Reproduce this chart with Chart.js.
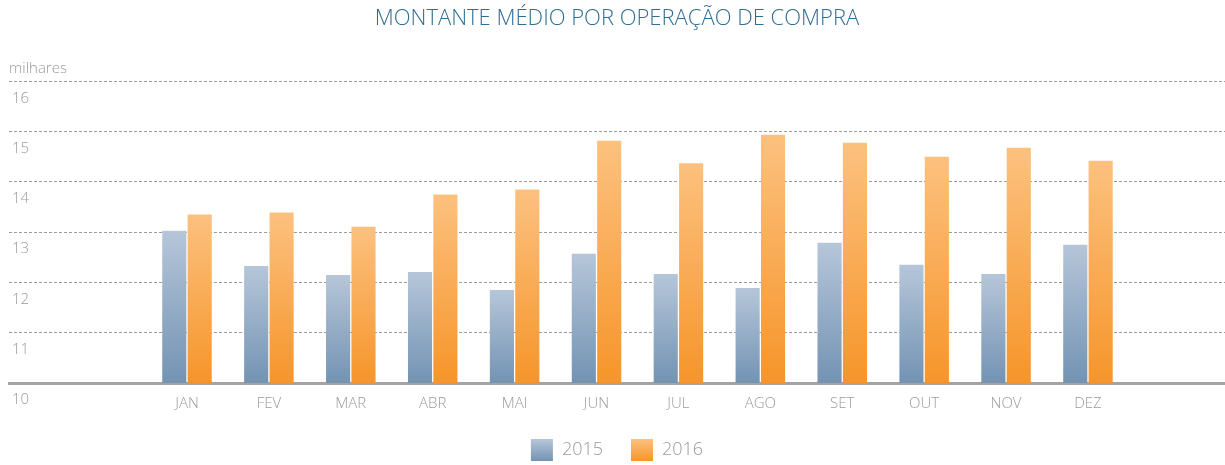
<!DOCTYPE html>
<html>
<head>
<meta charset="utf-8">
<script src="https://cdn.jsdelivr.net/npm/chart.js@4"></script>
<style>
  html, body { margin: 0; padding: 0; background: #fff; }
  #wrap { width: 1225px; height: 465px; }
</style>
</head>
<body>
<div id="wrap"><canvas id="compraChart"></canvas></div>
<script>
var months = ['JAN', 'FEV', 'MAR', 'ABR', 'MAI', 'JUN', 'JUL', 'AGO', 'SET', 'OUT', 'NOV', 'DEZ']
var values2015 = [13.03, 12.33, 12.15, 12.21, 11.85, 12.57, 12.17, 11.89, 12.79, 12.35, 12.17, 12.75]
var values2016 = [13.35, 13.39, 13.11, 13.75, 13.85, 14.82, 14.37, 14.94, 14.78, 14.5, 14.68, 14.42]
var yTicks = [10, 11, 12, 13, 14, 15, 16]

var FONT = '"Open Sans", "DejaVu Sans", sans-serif'
var GREY = '#9a9a9a'

// vertical gradient for each bar, from its top to the baseline
function barGradient(light, dark) {
    return function (ctx) {
        var chart = ctx.chart
        var area = chart.chartArea
        if (!area || ctx.type !== 'data' || !ctx.parsed) return dark
        var top = chart.scales.y.getPixelForValue(ctx.parsed.y)
        if (!isFinite(top) || !isFinite(area.bottom)) return dark
        var g = chart.ctx.createLinearGradient(0, top, 0, area.bottom)
        g.addColorStop(0, light)
        g.addColorStop(1, dark)
        return g
    }
}

function toPoints(arr) {
    return arr.map(function (v, i) { return { x: i, y: v } })
}

var palette = [
    { light: '#b6c6d9', dark: '#7393b3' },
    { light: '#fcc17f', dark: '#f6952a' }
]

var data = {
    datasets: [
        {
            label: '2015',
            data: toPoints(values2015),
            backgroundColor: barGradient(palette[0].light, palette[0].dark),
            borderWidth: 0,
            categoryPercentage: 0.62,
            barPercentage: 0.95,
        },
        {
            label: '2016',
            data: toPoints(values2016),
            backgroundColor: barGradient(palette[1].light, palette[1].dark),
            borderWidth: 0,
            categoryPercentage: 0.62,
            barPercentage: 0.95,
        },
    ],
}

// legend boxes sit at a fixed height under the axis
var LEGEND_BOX_TOP = 439

var config = {
    type: 'bar',
    data: data,
    options: {
        responsive: true,
        maintainAspectRatio: false,
        animation: false,
        layout: { padding: { left: 9, right: 0, top: 0, bottom: -6 } },
        plugins: {
            title: {
                display: true,
                text: 'MONTANTE MÉDIO POR OPERAÇÃO DE COMPRA',
                color: '#2f6d93',
                font: { family: FONT, size: 22, weight: '300' },
                padding: { top: 6, bottom: 27 },
            },
            subtitle: {
                display: true,
                text: 'milhares',
                align: 'start',
                color: GREY,
                font: { family: FONT, size: 15, weight: '300' },
                padding: { top: 0, bottom: 4 },
            },
            legend: {
                position: 'bottom',
                labels: {
                    boxWidth: 22,
                    boxHeight: 22,
                    padding: 28,
                    color: GREY,
                    font: { family: FONT, size: 18, weight: '300' },
                    generateLabels: function (chart) {
                        return chart.data.datasets.map(function (ds, i) {
                            var g = chart.ctx.createLinearGradient(0, LEGEND_BOX_TOP, 0, LEGEND_BOX_TOP + 22)
                            g.addColorStop(0, palette[i].light)
                            g.addColorStop(1, palette[i].dark)
                            return {
                                text: ds.label,
                                fillStyle: g,
                                strokeStyle: 'rgba(0,0,0,0)',
                                lineWidth: 0,
                                fontColor: GREY,
                                datasetIndex: i,
                                hidden: !chart.isDatasetVisible(i),
                            }
                        })
                    },
                },
            },
            tooltip: { enabled: false },
        },
        scales: {
            x: {
                type: 'linear',
                min: -2.173,
                max: 12.673,
                offset: false,
                afterFit: function (scale) { scale.height = 28 },
                grid: { display: false, offset: false },
                border: { display: true, color: '#a3a3a3', width: 3 },
                ticks: {
                    stepSize: 1,
                    autoSkip: false,
                    maxRotation: 0,
                    includeBounds: false,
                    padding: 5,
                    color: GREY,
                    font: { family: FONT, size: 15, weight: '300', lineHeight: 1 },
                    callback: function (v) {
                        return (Number.isInteger(v) && v >= 0 && v < months.length) ? months[v] : ''
                    },
                },
            },
            y: {
                min: yTicks[0],
                max: yTicks[yTicks.length - 1],
                afterBuildTicks: function (scale) {
                    scale.ticks = yTicks.map(function (v) { return { value: v } })
                },
                afterFit: function (scale) { scale.width = 0 },
                grid: {
                    drawTicks: false,
                    color: function (ctx) { return ctx.tick && ctx.tick.value === 10 ? 'rgba(0,0,0,0)' : '#9c9c9c' },
                    lineWidth: 1,
                },
                border: { display: false, dash: [3, 2] },
                ticks: {
                    mirror: true,
                    padding: 3,
                    labelOffset: 17,
                    color: GREY,
                    font: { family: FONT, size: 15, weight: '300' },
                },
            },
        },
    },
}

var canvas = document.getElementById('compraChart')
var chart = new Chart(canvas, config)
</script>
</body>
</html>
